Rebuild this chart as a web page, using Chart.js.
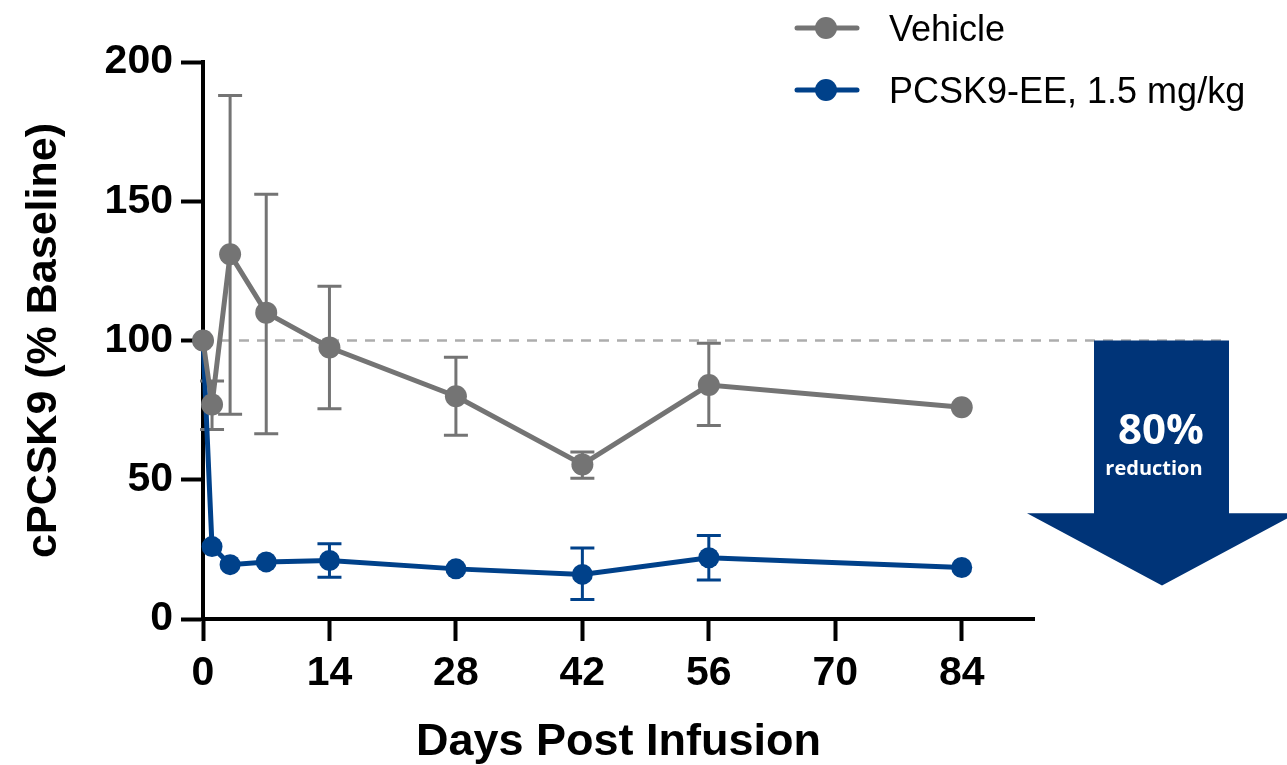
<!DOCTYPE html>
<html>
<head>
<meta charset="utf-8">
<script src="https://cdn.jsdelivr.net/npm/chart.js@4"></script>
<style>
  html, body { margin: 0; padding: 0; background: #fff; }
  #wrap { width: 1287px; height: 765px; position: relative; }
</style>
</head>
<body>
<div id="wrap"><canvas id="myChart"></canvas></div>
<script>
// sampling days and tick values
const days = [0, 1, 3, 7, 14, 28, 42, 56, 84];
const xTicks = [0, 14, 28, 42, 56, 70, 84];
const yTicks = [0, 50, 100, 150, 200];

// cPCSK9, % of baseline (mean, upper and lower error bar ends)
const vehicle = [100, 77, 131, 110, 97.5, 80, 55.5, 84, 76];
const vehicleHi = [null, 85.5, 188, 152.5, 119.5, 94, 60, 99, null];
const vehicleLo = [null, 68, 73.5, 66.5, 75.5, 66, 50.5, 69.5, null];

const pcsk9 = [100, 26, 19.5, 20.5, 21, 18, 16, 22, 18.5];
const pcsk9Hi = [null, null, null, null, 27, null, 25.5, 30, null];
const pcsk9Lo = [null, null, null, null, 15, null, 7, 14, null];

const baseline = 100;
const reductionLabel = ['80%', 'reduction'];

const GRAY = '#747474';
const BLUE = '#00418a';
const ARROW = '#003478';
const FONT = '"Liberation Sans", Arial, sans-serif';

const toPoints = (ys) => ys.map((y, i) => ({ x: days[i], y: y }));

// error bars + dashed baseline, drawn under the lines
const errorBars = {
  id: 'errorBars',
  beforeDatasetsDraw(chart) {
    const { ctx, scales: { x, y } } = chart;
    ctx.save();
    // dashed 100% line, runs out to the arrow
    ctx.strokeStyle = '#adadad';
    ctx.lineWidth = 2.5;
    ctx.setLineDash([10, 8]);
    ctx.beginPath();
    ctx.moveTo(x.getPixelForValue(0), y.getPixelForValue(baseline));
    ctx.lineTo(chart.chartArea.right + 195, y.getPixelForValue(baseline));
    ctx.stroke();
    ctx.setLineDash([]);

    const sets = [[pcsk9Hi, pcsk9Lo, BLUE], [vehicleHi, vehicleLo, GRAY]];
    sets.forEach(([hi, lo, color]) => {
      ctx.strokeStyle = color;
      ctx.lineWidth = 3;
      days.forEach((d, i) => {
        if (hi[i] == null) return;
        const px = x.getPixelForValue(d);
        const top = y.getPixelForValue(hi[i]);
        const bot = y.getPixelForValue(lo[i]);
        ctx.beginPath();
        ctx.moveTo(px, top); ctx.lineTo(px, bot);
        ctx.moveTo(px - 12, top); ctx.lineTo(px + 12, top);
        ctx.moveTo(px - 12, bot); ctx.lineTo(px + 12, bot);
        ctx.stroke();
      });
    });
    ctx.restore();
  }
};

// legend in the top right and the reduction arrow
const extras = {
  id: 'extras',
  afterDraw(chart) {
    const { ctx, chartArea, scales: { y } } = chart;
    ctx.save();

    // legend
    chart.data.datasets.forEach((ds, i) => {
      const ly = 28 + i * 62;
      ctx.strokeStyle = ds.borderColor;
      ctx.lineWidth = 5;
      ctx.lineCap = 'round';
      ctx.beginPath();
      ctx.moveTo(797, ly); ctx.lineTo(857, ly);
      ctx.stroke();
      ctx.fillStyle = ds.backgroundColor;
      ctx.beginPath();
      ctx.arc(826, ly, 11, 0, Math.PI * 2);
      ctx.fill();
      ctx.fillStyle = '#000';
      ctx.font = '36px ' + FONT;
      ctx.textAlign = 'left';
      ctx.textBaseline = 'middle';
      ctx.fillText(ds.label, 889, ly + 3);
    });

    // arrow from the 100% line down
    const r = chartArea.right;
    const top = y.getPixelForValue(baseline);
    const neck = y.getPixelForValue(38);
    const tip = y.getPixelForValue(12);
    ctx.fillStyle = ARROW;
    ctx.beginPath();
    ctx.moveTo(r + 60, top);
    ctx.lineTo(r + 195, top);
    ctx.lineTo(r + 195, neck);
    ctx.lineTo(r + 263, neck);
    ctx.lineTo(r + 128, tip);
    ctx.lineTo(r - 7, neck);
    ctx.lineTo(r + 60, neck);
    ctx.closePath();
    ctx.fill();

    ctx.fillStyle = '#fff';
    ctx.textAlign = 'center';
    ctx.textBaseline = 'middle';
    ctx.font = 'bold 42px "Open Sans", sans-serif';
    ctx.fillText(reductionLabel[0], r + 127, top + 92);
    ctx.font = 'bold 20px "Open Sans", sans-serif';
    ctx.fillText(reductionLabel[1], r + 120, top + 129);
    ctx.restore();
  }
};

const axisGrid = {
  display: true,
  drawOnChartArea: false,
  drawTicks: true,
  tickLength: 22,
  tickWidth: 4,
  tickColor: '#000'
};

const ctx = document.getElementById('myChart').getContext('2d');
const chart = new Chart(ctx, {
  type: 'line',
  data: {
    datasets: [
      {
        label: 'Vehicle',
        data: toPoints(vehicle),
        borderColor: GRAY,
        backgroundColor: GRAY,
        borderWidth: 5,
        pointRadius: 11,
        pointHoverRadius: 11,
        pointBorderWidth: 0,
        tension: 0,
        clip: false
      },
      {
        label: 'PCSK9-EE, 1.5 mg/kg',
        data: toPoints(pcsk9),
        borderColor: BLUE,
        backgroundColor: BLUE,
        borderWidth: 5,
        pointRadius: 10.5,
        pointHoverRadius: 10.5,
        pointBorderWidth: 0,
        tension: 0,
        clip: false
      }
    ]
  },
  options: {
    responsive: true,
    maintainAspectRatio: false,
    animation: false,
    layout: { padding: { top: 62, right: 253, left: 0, bottom: 0 } },
    plugins: {
      legend: { display: false },
      tooltip: { enabled: false }
    },
    scales: {
      x: {
        type: 'linear',
        min: 0,
        max: 92,
        afterFit: (s) => { s.height = 146; },
        afterBuildTicks: (s) => { s.ticks = xTicks.map(v => ({ value: v })); },
        grid: axisGrid,
        border: { display: true, color: '#000', width: 4 },
        ticks: {
          color: '#000',
          padding: 8,
          maxRotation: 0,
          font: { family: FONT, size: 41, weight: 'bold' }
        },
        title: {
          display: true,
          text: 'Days Post Infusion',
          color: '#000',
          padding: 0,
          font: { family: FONT, size: 45, weight: 'bold', lineHeight: 1 }
        }
      },
      y: {
        min: 0,
        max: 200,
        afterFit: (s) => { s.width = 203; },
        afterBuildTicks: (s) => { s.ticks = yTicks.map(v => ({ value: v })); },
        grid: axisGrid,
        border: { display: true, color: '#000', width: 4 },
        ticks: {
          color: '#000',
          padding: 8,
          font: { family: FONT, size: 41, weight: 'bold' }
        },
        title: {
          display: true,
          text: 'cPCSK9 (% Baseline)',
          color: '#000',
          padding: { top: 23, bottom: 0 },
          font: { family: FONT, size: 43, weight: 'bold', lineHeight: 1 }
        }
      }
    }
  },
  plugins: [errorBars, extras]
});
</script>
</body>
</html>
